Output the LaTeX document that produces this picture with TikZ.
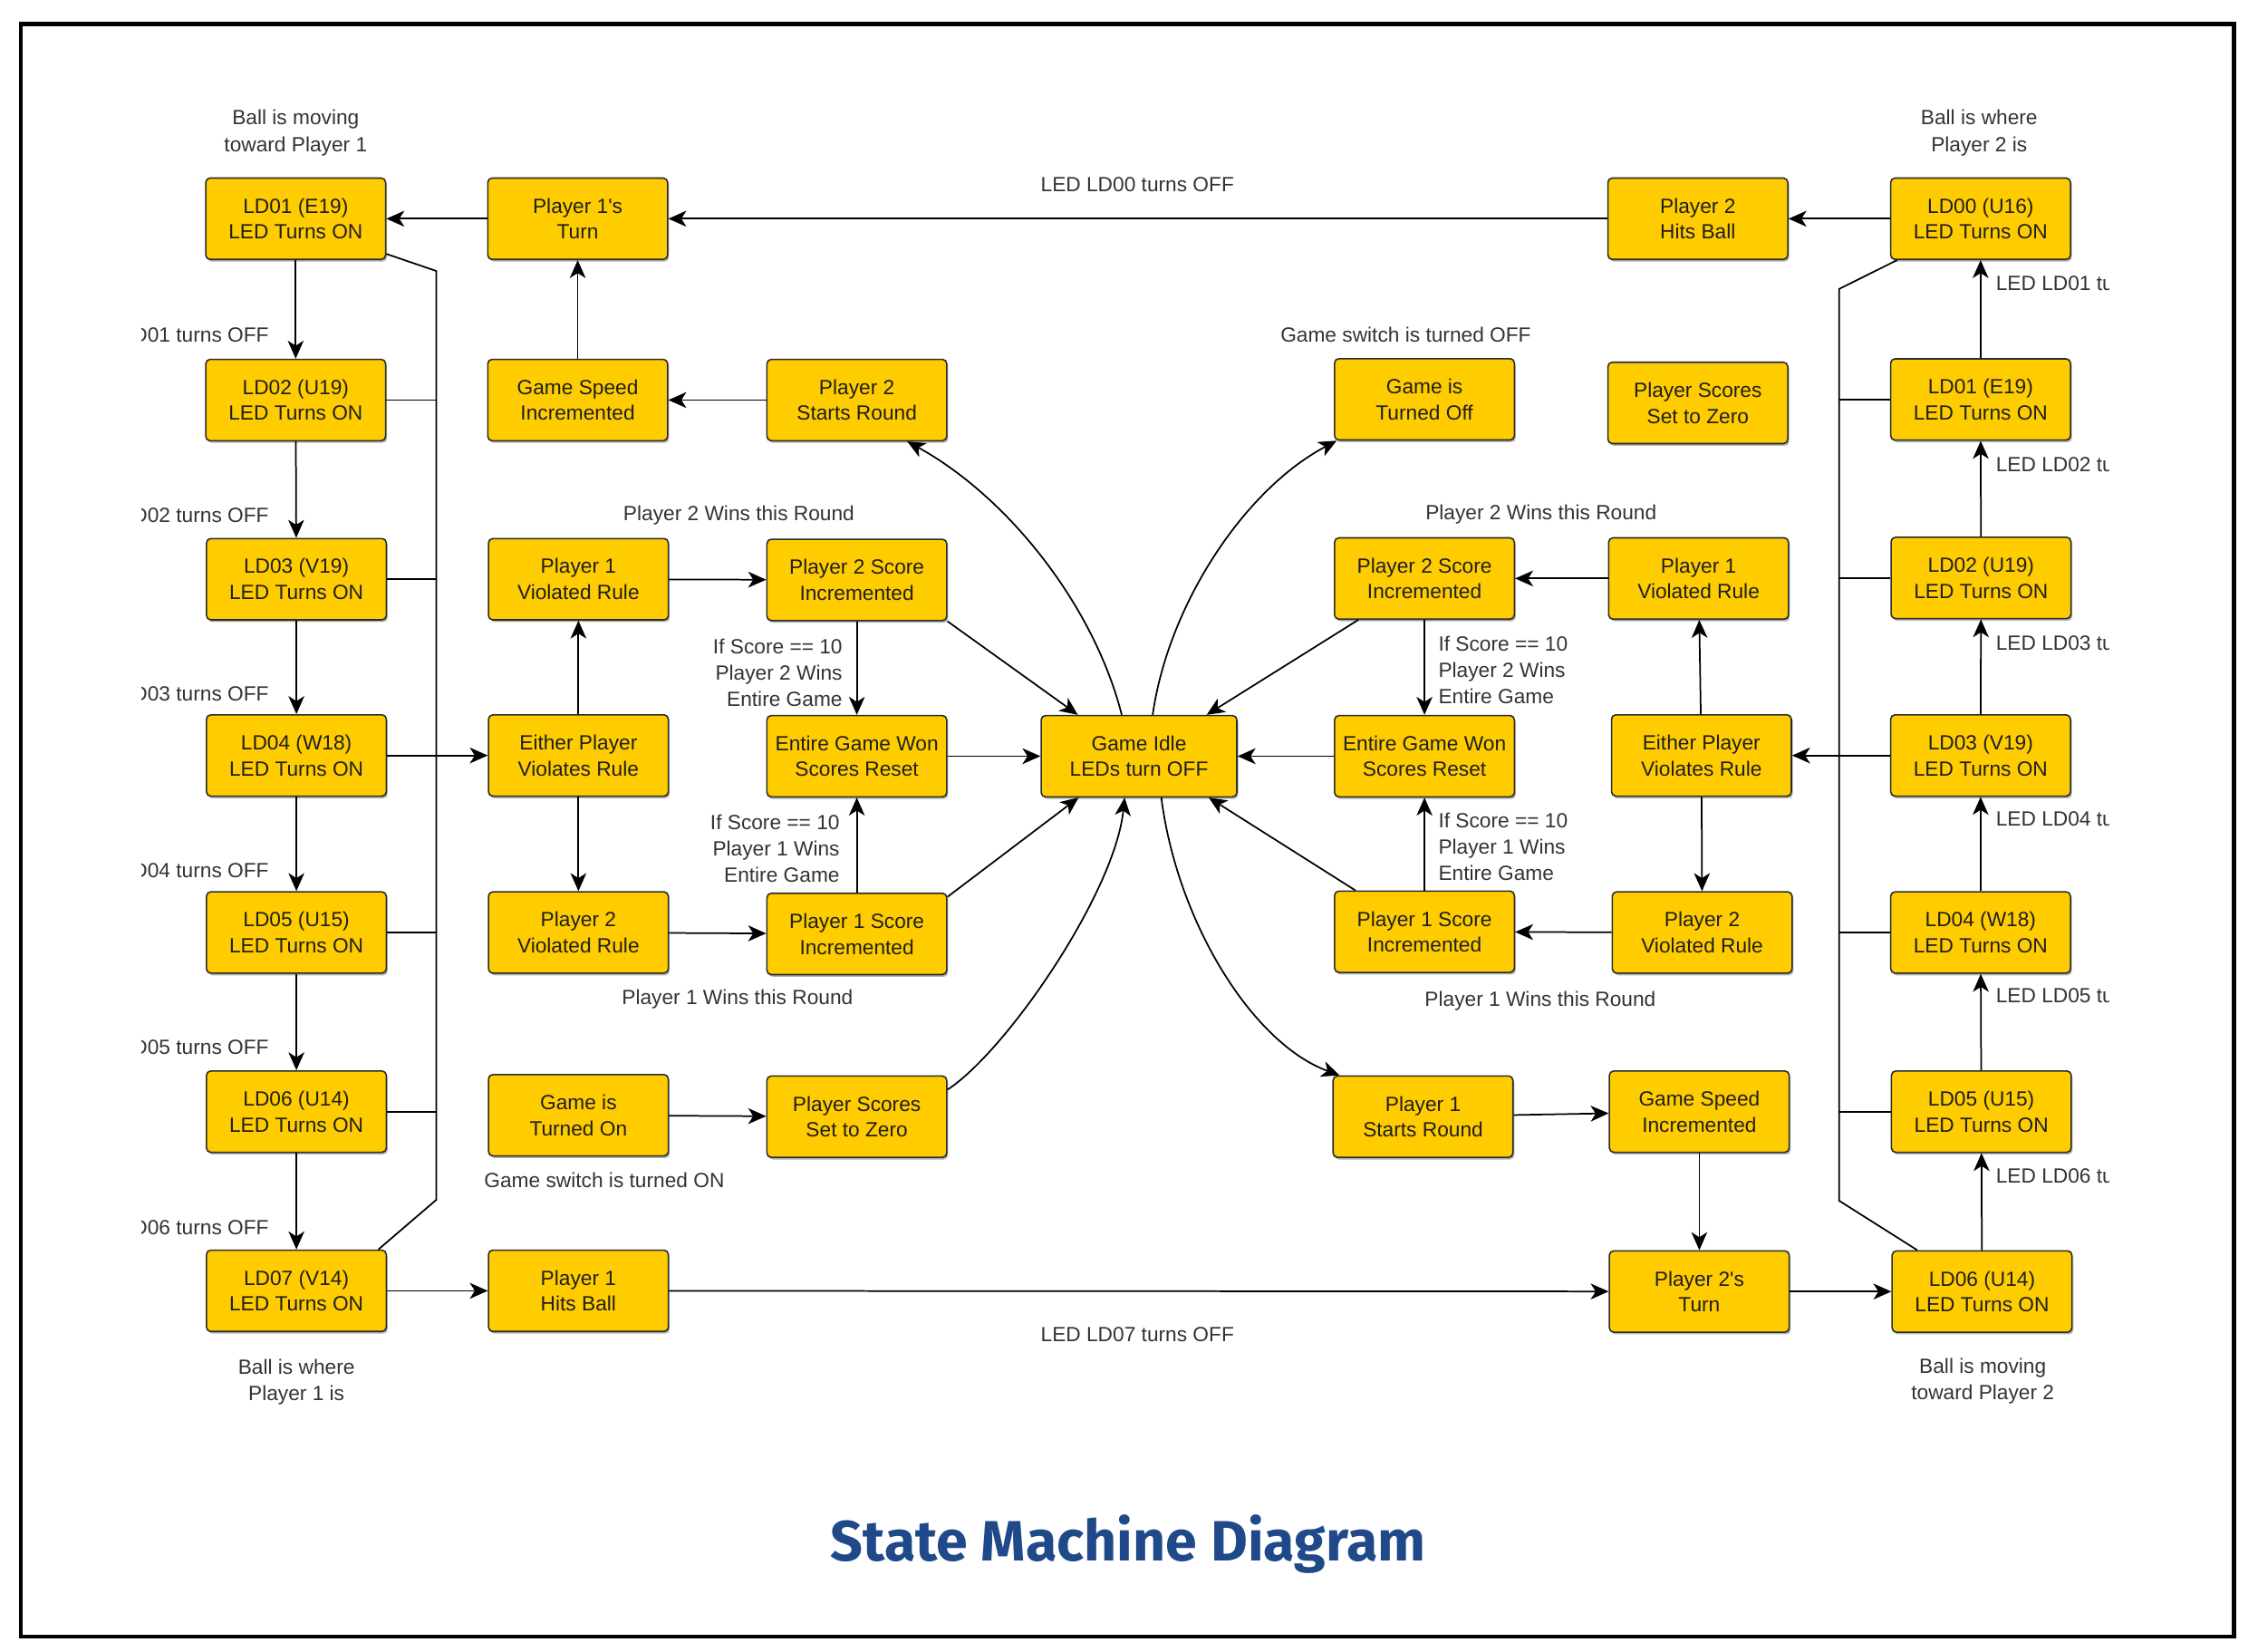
\documentclass[tikz,border=0pt]{standalone}
\usepackage{fontspec}
\setmainfont{Liberation Sans}[Ligatures=TeXOff]
\newfontfamily\titlefont{Fira Sans}
\usetikzlibrary{arrows.meta,calc,shadows}
\definecolor{boxfill}{HTML}{FFCC00}
\definecolor{boxline}{HTML}{2B2B2B}
\definecolor{lbl}{HTML}{333333}
\definecolor{ttl}{RGB}{31,73,137}
\tikzset{
 state/.style={draw=boxline, line width=1pt, fill=boxfill, rounded corners=3pt,
   minimum width=125pt, minimum height=56.5pt, inner sep=0pt, align=center,
   font=\fontsize{14.3}{18}\selectfont, text=black!88,
   drop shadow={shadow xshift=1pt, shadow yshift=-1.5pt, opacity=0.3, fill=black}},
 lab/.style={inner sep=0pt, align=center, font=\fontsize{14.3}{18.4}\selectfont, text=lbl},
 arr/.style={draw=black, line width=1.1pt, -{Stealth[length=12.5pt, width=11pt, inset=3.5pt]}},
 wire/.style={draw=black, line width=1.1pt},
}
\begin{document}
\begin{tikzpicture}[x=1pt,y=-1pt]
\useasboundingbox (0,0) rectangle (1569.3,1148);
\draw[line width=2.7pt] (14.6,16.6) rectangle (1552.6,1137.5);

% left LED column
\node[state] (A1) at (205.5,152) {LD01 (E19)\\LED Turns ON};
\node[state] (A2) at (205.5,278) {LD02 (U19)\\LED Turns ON};
\node[state] (A3) at (206,402.5) {LD03 (V19)\\LED Turns ON};
\node[state] (A4) at (206,525) {LD04 (W18)\\LED Turns ON};
\node[state] (A5) at (206,648) {LD05 (U15)\\LED Turns ON};
\node[state] (A6) at (206,772.5) {LD06 (U14)\\LED Turns ON};
\node[state] (A7) at (206,897) {LD07 (V14)\\LED Turns ON};

% second column
\node[state] (P1T) at (401.5,152) {Player 1's\\Turn};
\node[state] (GSL) at (401.5,278) {Game Speed\\Incremented};
\node[state] (P1VL) at (402,402.5) {Player 1\\Violated Rule};
\node[state] (EVL) at (402,525) {Either Player\\Violates Rule};
\node[state] (P2VL) at (402,648) {Player 2\\Violated Rule};
\node[state] (GON) at (402,775) {Game is\\Turned On};
\node[state] (P1H) at (402,897) {Player 1\\Hits Ball};

% third column
\node[state] (P2S) at (595.5,278) {Player 2\\Starts Round};
\node[state] (S2L) at (595.5,403) {Player 2 Score\\Incremented};
\node[state] (EGL) at (595.5,525.5) {Entire Game Won\\Scores Reset};
\node[state] (S1L) at (595.5,649) {Player 1 Score\\Incremented};
\node[state] (ZL) at (595.5,776) {Player Scores\\Set to Zero};

% centre
\node[state, minimum width=136pt] (GI) at (791.6,525.5) {Game Idle\\LEDs turn OFF};

% fourth column
\node[state] (GOFF) at (990,277.5) {Game is\\Turned Off};
\node[state] (S2R) at (990,402) {Player 2 Score\\Incremented};
\node[state] (EGR) at (990,525.5) {Entire Game Won\\Scores Reset};
\node[state] (S1R) at (990,647.5) {Player 1 Score\\Incremented};
\node[state] (P1S) at (989,776) {Player 1\\Starts Round};

% fifth column
\node[state] (P2H) at (1180,152) {Player 2\\Hits Ball};
\node[state] (ZR) at (1180,280) {Player Scores\\Set to Zero};
\node[state] (P1VR) at (1180.5,402) {Player 1\\Violated Rule};
\node[state] (EVR) at (1182.5,525) {Either Player\\Violates Rule};
\node[state] (P2VR) at (1183,648) {Player 2\\Violated Rule};
\node[state] (GSR) at (1181,772.5) {Game Speed\\Incremented};
\node[state] (P2T) at (1181,897.5) {Player 2's\\Turn};

% right LED column
\node[state] (B0) at (1376.5,152) {LD00 (U16)\\LED Turns ON};
\node[state] (B1) at (1376.5,277.6) {LD01 (E19)\\LED Turns ON};
\node[state] (B2) at (1376.8,401.6) {LD02 (U19)\\LED Turns ON};
\node[state] (B3) at (1376.5,525) {LD03 (V19)\\LED Turns ON};
\node[state] (B4) at (1376.5,648) {LD04 (W18)\\LED Turns ON};
\node[state] (B5) at (1377,772.5) {LD05 (U15)\\LED Turns ON};
\node[state] (B6) at (1377.5,897.5) {LD06 (U14)\\LED Turns ON};

% left column arrows
\draw[arr] (A1) -- (A2);
\draw[arr] (A2) -- (A3);
\draw[arr] (A3) -- (A4);
\draw[arr] (A4) -- (A5);
\draw[arr] (A5) -- (A6);
\draw[arr] (A6) -- (A7);
% right column arrows
\draw[arr] (B6) -- (B5);
\draw[arr] (B5) -- (B4);
\draw[arr] (B4) -- (B3);
\draw[arr] (B3) -- (B2);
\draw[arr] (B2) -- (B1);
\draw[arr] (B1) -- (B0);

% left bus
\coordinate (bLt) at (303.2,188.3);
\coordinate (bLb) at (303.2,833.8);
\draw[wire] ($(A1.south east)+(0,-4.3)$) -- (bLt) -- (bLb) -- ($(A7.north east)+(-6,0)$);
\draw[wire] (A2.east) -- (A2.east -| bLt);
\draw[wire] (A3.east) -- (A3.east -| bLt);
\draw[wire] (A5.east) -- (A5.east -| bLt);
\draw[wire] (A6.east) -- (A6.east -| bLt);
\draw[arr] (A4) -- (EVL);
% right bus
\coordinate (bRt) at (1278.2,200.8);
\coordinate (bRb) at (1278.2,834.4);
\draw[wire] ($(B0.south west)+(5,0)$) -- (bRt) -- (bRb) -- ($(B6.north west)+(18,0)$);
\draw[wire] (B1.west) -- (B1.west -| bRt);
\draw[wire] (B2.west) -- (B2.west -| bRt);
\draw[wire] (B4.west) -- (B4.west -| bRt);
\draw[wire] (B5.west) -- (B5.west -| bRt);
\draw[arr] (B3) -- (EVR);

% top and bottom rows
\draw[arr] (P1T) -- (A1);
\draw[arr] (P2H) -- (P1T);
\draw[arr] (B0) -- (P2H);
\draw[arr] (A7) -- (P1H);
\draw[arr] (P1H) -- (P2T);
\draw[arr] (P2T) -- (B6);

% left inner
\draw[arr] (GSL) -- (P1T);
\draw[arr] (P2S) -- (GSL);
\draw[arr] (P1VL) -- (S2L);
\draw[arr] (EVL) -- (P1VL);
\draw[arr] (EVL) -- (P2VL);
\draw[arr] (P2VL) -- (S1L);
\draw[arr] (GON) -- (ZL);
\draw[arr] (S2L) -- (EGL);
\draw[arr] (S1L) -- (EGL);
\draw[arr] (EGL) -- (GI);
\draw[arr] (S2L.south east) -- ($(GI.north west)+(26,0)$);
\draw[arr] ($(S1L.north east)+(0,3)$) -- ($(GI.south west)+(26.5,0)$);

% right inner
\draw[arr] (P1VR) -- (S2R);
\draw[arr] (P2VR) -- (S1R);
\draw[arr] (EVR) -- (P1VR);
\draw[arr] (EVR) -- (P2VR);
\draw[arr] (P1S) -- (GSR);
\draw[arr] (GSR) -- (P2T);
\draw[arr] (S2R) -- (EGR);
\draw[arr] (S1R) -- (EGR);
\draw[arr] (EGR) -- (GI);
\draw[arr] ($(S2R.south west)+(17,0)$) -- ($(GI.north east)+(-21.5,0)$);
\draw[arr] ($(S1R.north west)+(15,0)$) -- ($(GI.south east)+(-20,0)$);

% curves
\draw[arr] ($(GI.north west)+(56.5,0)$) .. controls (760,420) and (700,345) .. ($(P2S.south east)+(-28,0)$);
\draw[arr] ($(GI.north west)+(78,0)$) .. controls (812,420) and (865,340) .. ($(GOFF.south west)+(2,0)$);
\draw[arr] ($(GI.south west)+(84,0)$) .. controls (818,640) and (870,725) .. ($(P1S.north west)+(5,0)$);
\draw[arr] ($(ZL.north east)+(0,10)$) .. controls (700,730) and (775,620) .. ($(GI.south west)+(58.5,0)$);

% labels
\node[lab] (t1) at (205.5,92.3) {Ball is moving\\toward Player 1};
\node[lab] (t2) at (1375.5,92.3) {Ball is where\\Player 2 is};
\node[lab] (t3) at (206,960.3) {Ball is where\\Player 1 is};
\node[lab] (t4) at (1378,959.8) {Ball is moving\\toward Player 2};
\node[lab, anchor=base] (t5) at (790.5,133) {LED LD00 turns OFF};
\node[lab, anchor=base] (t6) at (790.5,932) {LED LD07 turns OFF};
\node[lab, anchor=base] (t7) at (977,238) {Game switch is turned OFF};
\node[lab, anchor=base] (t8) at (420,825.5) {Game switch is turned ON};
\node[lab, anchor=base] (t9) at (513.5,362) {Player 2 Wins this Round};
\node[lab, anchor=base] (t10) at (512.5,698) {Player 1 Wins this Round};
\node[lab, anchor=base] (t11) at (1071,361) {Player 2 Wins this Round};
\node[lab, anchor=base] (t12) at (1070.5,699) {Player 1 Wins this Round};
\node[lab, align=right, anchor=east] (t13) at (585.6,467.6) {If Score == 10\\Player 2 Wins\\Entire Game};
\node[lab, align=right, anchor=east] (t14) at (583.7,589.7) {If Score == 10\\Player 1 Wins\\Entire Game};
\node[lab, align=left, anchor=west] (t15) at (999.5,465.6) {If Score == 10\\Player 2 Wins\\Entire Game};
\node[lab, align=left, anchor=west] (t16) at (999.5,588.4) {If Score == 10\\Player 1 Wins\\Entire Game};

\begin{scope}
\clip (98.6,0) rectangle (1465.5,1148);
\node[lab, anchor=base east] (u1) at (187,238) {LED LD01 turns OFF};
\node[lab, anchor=base east] (u2) at (187,363) {LED LD02 turns OFF};
\node[lab, anchor=base east] (u3) at (187,487) {LED LD03 turns OFF};
\node[lab, anchor=base east] (u4) at (187,610) {LED LD04 turns OFF};
\node[lab, anchor=base east] (u5) at (187,733) {LED LD05 turns OFF};
\node[lab, anchor=base east] (u6) at (187,858) {LED LD06 turns OFF};
\node[lab, anchor=base west] (v1) at (1387,202) {LED LD01 turns OFF};
\node[lab, anchor=base west] (v2) at (1387,328) {LED LD02 turns OFF};
\node[lab, anchor=base west] (v3) at (1387,452) {LED LD03 turns OFF};
\node[lab, anchor=base west] (v4) at (1387,574) {LED LD04 turns OFF};
\node[lab, anchor=base west] (v5) at (1387,697) {LED LD05 turns OFF};
\node[lab, anchor=base west] (v6) at (1387,822) {LED LD06 turns OFF};
\end{scope}

\node[anchor=base, inner sep=0pt, text=ttl, font=\titlefont\bfseries\fontsize{39.5}{44}\selectfont] (title) at (784,1085) {State Machine Diagram};
\end{tikzpicture}
\end{document}
